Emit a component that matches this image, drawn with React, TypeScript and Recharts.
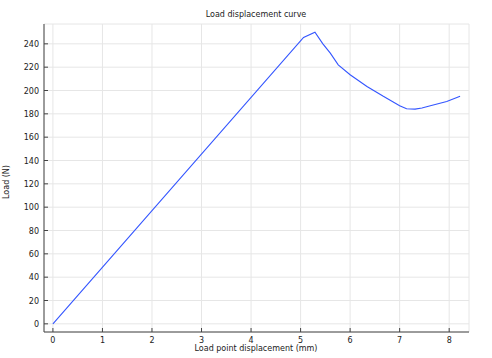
import React from 'react';
import {
  LineChart, Line, XAxis, YAxis, CartesianGrid,
} from 'recharts';

// load point displacement (mm) and load (N)
const displacement = [0, 5.06, 5.29, 5.45, 5.6, 5.76, 6.0, 6.34, 6.67, 7.0, 7.14, 7.31, 7.45, 7.62, 7.95, 8.22];
const load = [0, 245.5, 250, 240, 232, 222, 213.5, 203.5, 195, 187, 184.3, 184, 185, 187, 190.5, 195];

const xTicks = [0, 1, 2, 3, 4, 5, 6, 7, 8];
const yTicks = [0, 20, 40, 60, 80, 100, 120, 140, 160, 180, 200, 220, 240];

const data = displacement.map((d, i) => ({ d, load: load[i] }));

const FONT = 'DejaVu Sans, sans-serif';
const TEXT = '#222';
const FRAME = '#444';
const TICK = 4;

function LeftTick(props: any) {
  const { x, y, payload } = props;
  return (
    <g>
      <line x1={x} y1={y} x2={x + TICK} y2={y} stroke={FRAME} />
      <text x={x - 5} y={y} dy={3} textAnchor="end" fontSize={8} fontFamily={FONT} fill={TEXT}>
        {payload.value}
      </text>
    </g>
  );
}

function BottomTick(props: any) {
  const { x, y, payload } = props;
  return (
    <g>
      <line x1={x} y1={y} x2={x} y2={y - TICK} stroke={FRAME} />
      <text x={x} y={y + 11} textAnchor="middle" fontSize={8} fontFamily={FONT} fill={TEXT}>
        {payload.value}
      </text>
    </g>
  );
}

function TopTick(props: any) {
  const { x, y } = props;
  return <line x1={x} y1={y} x2={x} y2={y + TICK} stroke={FRAME} />;
}

function RightTick(props: any) {
  const { x, y } = props;
  return <line x1={x} y1={y} x2={x - TICK} y2={y} stroke={FRAME} />;
}

export default function App() {
  return (
    <div style={{ position: 'absolute', left: 0, top: 0, width: 492, height: 358, background: '#fff' }}>
      <LineChart
        width={492}
        height={358}
        data={data}
        margin={{ top: 24, right: 23, bottom: 0, left: 0 }}
      >
        <CartesianGrid xAxisId="b" yAxisId="l" stroke="#e6e6e6" />
        <XAxis
          xAxisId="b"
          dataKey="d"
          type="number"
          domain={[-0.18, 8.4]}
          ticks={xTicks}
          allowDataOverflow
          height={26}
          tickSize={0}
          tickMargin={0}
          tickLine={false}
          axisLine={{ stroke: FRAME }}
          tick={<BottomTick />}
        />
        <XAxis
          xAxisId="t"
          dataKey="d"
          type="number"
          orientation="top"
          domain={[-0.18, 8.4]}
          ticks={xTicks}
          allowDataOverflow
          height={0}
          tickSize={0}
          tickMargin={0}
          tickLine={false}
          axisLine={{ stroke: FRAME }}
          tick={<TopTick />}
        />
        <YAxis
          yAxisId="l"
          type="number"
          domain={[-7, 257]}
          ticks={yTicks}
          allowDataOverflow
          width={44}
          tickSize={0}
          tickMargin={0}
          tickLine={false}
          axisLine={{ stroke: FRAME }}
          tick={<LeftTick />}
        />
        <YAxis
          yAxisId="r"
          orientation="right"
          type="number"
          domain={[-7, 257]}
          ticks={yTicks}
          allowDataOverflow
          width={0}
          tickSize={0}
          tickMargin={0}
          tickLine={false}
          axisLine={{ stroke: FRAME }}
          tick={<RightTick />}
        />
        <Line
          xAxisId="b"
          yAxisId="l"
          dataKey="load"
          type="linear"
          stroke="#3355ff"
          strokeWidth={1.1}
          dot={false}
          isAnimationActive={false}
        />
        <text x={256} y={17} textAnchor="middle" fontSize={8} fontFamily={FONT} fill={TEXT}>
          Load displacement curve
        </text>
        <text x={256} y={351} textAnchor="middle" fontSize={8} fontFamily={FONT} fill={TEXT}>
          Load point displacement (mm)
        </text>
        <text
          x={9}
          y={182}
          textAnchor="middle"
          fontSize={8}
          fontFamily={FONT}
          fill={TEXT}
          transform="rotate(-90 9 182)"
        >
          Load (N)
        </text>
      </LineChart>
    </div>
  );
}
